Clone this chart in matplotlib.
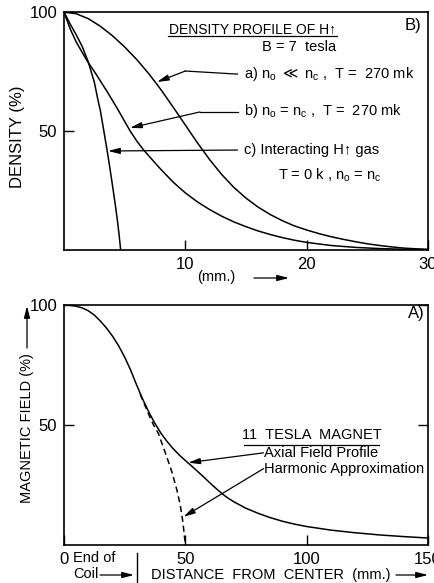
import matplotlib
matplotlib.use('Agg')
import matplotlib.pyplot as plt
from matplotlib.lines import Line2D
from matplotlib.patches import FancyArrowPatch

W, H = 435, 583

# --- panel B) density profiles of H-up, B = 7 tesla (x in mm, y in %)
DENS_A_X = [0, 1, 2, 3, 4, 5, 6, 7, 8, 9, 10, 11, 12, 13, 14, 15, 16, 17, 18,
            19, 20, 21, 22, 23, 24, 25, 26, 27, 28, 29, 30]
DENS_A_Y = [100, 99.3, 97.2, 94, 90, 85.3, 80, 74, 67.3, 60, 52.5, 45, 38,
            31.7, 26.3, 21.8, 18, 14.9, 12.3, 10.1, 8.4, 6.9, 5.6, 4.5,
            3.5, 2.6, 1.9, 1.3, 0.8, 0.5, 0.3]
DENS_B_X = [0, 0.5, 1, 1.5, 2, 2.5, 3, 3.5, 4, 4.5, 5, 5.5, 6, 6.5, 7, 7.5, 8,
            9, 10, 11, 12, 13, 14, 15, 16, 17, 18, 19, 20, 22, 24, 26, 28, 30]
DENS_B_Y = [100, 93, 87.5, 83, 78.7, 75, 71, 67, 62.8, 58.5, 54, 49.6, 45.8,
            42.4, 39.5, 36.6, 33.8, 28.5, 24, 20.2, 17, 14.2, 11.8, 9.8, 8,
            6.5, 5.2, 4.1, 3.2, 1.9, 1.1, 0.6, 0.3, 0.1]
DENS_C_X = [0, 0.5, 1, 1.5, 2, 2.5, 2.8, 3, 3.25, 3.5, 3.75, 4, 4.2, 4.4,
            4.55, 4.67]
DENS_C_Y = [100, 95, 90.5, 85.5, 79, 70.5, 63, 58.5, 51, 43.5, 35.5, 27, 20,
            12.5, 6, 0]

# --- panel A) 11 tesla magnet, axial field (x in mm, y in %)
FIELD_X = [0, 2.5, 5, 7.5, 10, 12.5, 15, 17.5, 20, 22.5, 25, 27.5, 30, 32.5,
           35, 37.5, 40, 42.5, 45, 47.5, 50, 52.5, 55, 57.5, 60, 62.5, 65,
           67.5, 70, 75, 80, 85, 90, 95, 100, 110, 120, 130, 140, 150]
FIELD_Y = [100, 99.9, 99.5, 98.8, 97.6, 95.8, 93.3, 90.4, 87, 83, 78.3, 72.8,
           66.5, 60.6, 55.3, 50.6, 46.5, 43.1, 40.1, 37.5, 35.2, 33, 30.7, 28.4,
           26, 23.7, 21.5, 19.6, 18, 15.3, 13.2, 11.4, 9.9, 8.7, 7.7, 6.2,
           5.1, 4.2, 3.5, 2.9]
HARM_X = [31.4, 33, 35, 37, 38.9, 41, 43, 44.4, 46.5, 47.9, 49, 50]
HARM_Y = [62.8, 59, 54.2, 49.8, 46.5, 40.5, 34.8, 30.6, 23, 16.7, 9.5, 0]
END_OF_COIL = 30.2

TOP_XTICKS = [10, 20, 30]
TOP_YTICKS = [50, 100]
BOT_XTICKS = [0, 50, 100, 150]
BOT_YTICKS = [50, 100]

FS = 12
LW = 1.1
HEAD = '-|>,head_length=0.7,head_width=0.18'

plt.rcParams['font.family'] = ['Liberation Sans', 'DejaVu Sans']


def px(x, y):
    # pixel position -> figure fraction
    return x / W, 1 - y / H


def arrow(ax, pts, lw=0.9):
    # polyline with a filled head on the last point
    xs = [p[0] for p in pts]
    ys = [p[1] for p in pts]
    if len(pts) > 2:
        ax.plot(xs[:-1], ys[:-1], color='k', lw=lw, clip_on=False)
    ax.annotate('', xy=pts[-1], xytext=pts[-2],
                arrowprops=dict(arrowstyle=HEAD, color='k', lw=lw,
                                shrinkA=0, shrinkB=0))


def fig_arrow(fig, p0, p1):
    fig.patches.append(FancyArrowPatch(
        px(*p0), px(*p1), transform=fig.transFigure, arrowstyle=HEAD,
        mutation_scale=10, color='k', lw=0.9, shrinkA=0, shrinkB=0))


def style(ax, xticks, yticks, right=False):
    for sp in ax.spines.values():
        sp.set_linewidth(1.2)
    ax.set_xticks(xticks)
    ax.set_yticks(yticks)
    ax.set_xticklabels([str(t) for t in xticks])
    ax.set_yticklabels([str(t) for t in yticks])
    ax.tick_params(direction='in', length=7, width=1.0, labelsize=FS,
                   pad=5, right=right)


def main():
    fig = plt.figure(figsize=(W / 100, H / 100), dpi=100)
    fig.patch.set_facecolor('white')

    # ---------------- top panel B)
    ax1 = fig.add_axes([64 / W, 1 - 250 / H, 364 / W, 238 / H])
    ax1.plot(DENS_A_X, DENS_A_Y, color='k', lw=LW)
    ax1.plot(DENS_B_X, DENS_B_Y, color='k', lw=LW)
    ax1.plot(DENS_C_X, DENS_C_Y, color='k', lw=LW)
    ax1.set_xlim(0, 30)
    ax1.set_ylim(0, 100)
    style(ax1, TOP_XTICKS, TOP_YTICKS)

    ax1.text(15.5, 92.6, 'DENSITY PROFILE OF H\u2191', fontsize=10,
             ha='center', va='center')
    ax1.plot([8.6, 22.5], [89.9, 89.9], color='k', lw=0.9)
    ax1.text(28.8, 94.5, 'B)', fontsize=FS, ha='center', va='center')
    ax1.text(19.4, 85.5, 'B = 7  tesla', fontsize=10.5,
             ha='center', va='center')
    ax1.text(14.8, 73.8,
             r'a) n$_\mathregular{o}$ $\ll$ n$_\mathregular{c}$ ,  T =  270 mk',
             fontsize=10.5, ha='left', va='center')
    ax1.text(14.8, 58.2,
             r'b) n$_\mathregular{o}$ = n$_\mathregular{c}$ ,  T =  270 mk',
             fontsize=10.5, ha='left', va='center')
    ax1.text(14.8, 42.2, 'c) Interacting H\u2191 gas', fontsize=10.5,
             ha='left', va='center')
    ax1.text(17.6, 31.5,
             r'T = 0 k , n$_\mathregular{o}$ = n$_\mathregular{c}$',
             fontsize=10.5, ha='left', va='center')

    arrow(ax1, [(14.3, 73.9), (10.0, 75.2), (7.67, 70.6)])
    arrow(ax1, [(14.3, 58.0), (11.2, 58.0), (5.44, 51.3)])
    arrow(ax1, [(14.3, 42.0), (3.63, 41.6)])

    fig.text(*px(18, 137), 'DENSITY (%)', rotation=90, fontsize=FS,
             ha='center', va='center')
    fig.text(*px(197, 277), '(mm.)', fontsize=10.5, ha='left', va='center')
    fig_arrow(fig, (254, 278), (289, 278))

    # ---------------- bottom panel A)
    ax2 = fig.add_axes([64 / W, 1 - 545 / H, 364 / W, 240 / H])
    ax2.plot(FIELD_X, FIELD_Y, color='k', lw=LW)
    ax2.plot(HARM_X, HARM_Y, color='k', lw=LW, ls=(0, (4, 2.5)))
    ax2.set_xlim(0, 150)
    ax2.set_ylim(0, 100)
    style(ax2, BOT_XTICKS, BOT_YTICKS, right=True)

    ax2.text(145, 96.5, 'A)', fontsize=FS, ha='center', va='center')
    ax2.text(102, 45.8, '11  TESLA  MAGNET', fontsize=10.5,
             ha='center', va='center')
    ax2.plot([74, 130], [41.8, 41.8], color='k', lw=0.9)
    ax2.text(82.5, 38.4, 'Axial Field Profile', fontsize=10.5,
             ha='left', va='center')
    ax2.text(82.5, 31.8, 'Harmonic Approximation', fontsize=10.5,
             ha='left', va='center')
    arrow(ax2, [(82.2, 38.4), (51.2, 34.3)])
    arrow(ax2, [(82.2, 31.8), (49.2, 11.7)])

    fig.text(*px(27, 428), 'MAGNETIC FIELD (%)', rotation=90, fontsize=10.5,
             ha='center', va='center')
    fig_arrow(fig, (27, 348), (27, 306))

    # below axis: end of coil marker and axis caption
    fig.text(*px(73, 558), 'End of', fontsize=10.5, ha='left', va='center')
    fig.text(*px(73, 574), 'Coil', fontsize=10.5, ha='left', va='center')
    fig_arrow(fig, (100, 575), (134, 575))
    xc = ax2.transData.transform((END_OF_COIL, 0))[0]
    fig.add_artist(Line2D([xc / W, xc / W], [1 - 553 / H, 0],
                          transform=fig.transFigure, color='k', lw=1.0))
    fig.text(*px(151, 575), 'DISTANCE  FROM  CENTER  (mm.)', fontsize=10.5,
             ha='left', va='center')
    fig_arrow(fig, (396, 575), (428, 575))

    fig.savefig('out.png', dpi=100)
    plt.close(fig)


if __name__ == '__main__':
    main()
